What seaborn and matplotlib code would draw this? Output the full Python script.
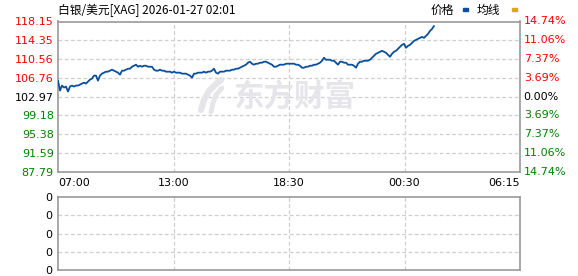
import numpy as np
import pandas as pd
import matplotlib
matplotlib.use("Agg")
import matplotlib.pyplot as plt
import seaborn as sns

# ---------------- data ----------------
title_text = "白银/美元[XAG] 2026-01-27 02:01"
prev_close = 102.97
y_ticks = [87.79, 91.59, 95.38, 99.18, 102.97, 106.76, 110.56, 114.35, 118.15]
pct_labels = ["14.74%", "11.06%", "7.37%", "3.69%", "0.00%", "3.69%", "7.37%", "11.06%", "14.74%"]
x_tick_labels = ["07:00", "13:00", "18:30", "00:30", "06:15"]
n_slots = 231  # evenly sampled slots across the trading day
prices = [
    106.20, 104.19, 105.20, 104.80, 105.00, 103.99, 105.00, 105.20, 105.00, 105.20,
    105.20, 105.40, 105.60, 105.80, 105.60, 106.00, 106.40, 106.60, 107.21, 107.21,
    106.20, 107.21, 107.61, 107.81, 108.01, 108.01, 108.21, 108.41, 108.21, 108.01,
    107.81, 107.41, 108.21, 108.21, 108.41, 108.61, 108.61, 109.01, 109.21, 109.42,
    109.01, 109.21, 109.01, 109.21, 109.21, 109.01, 109.01, 109.01, 108.41, 108.21,
    108.21, 108.41, 108.21, 108.21, 108.01, 108.01, 108.01, 107.81, 108.01, 107.81,
    107.81, 107.81, 107.61, 107.61, 107.61, 107.41, 107.21, 106.80, 107.61, 107.61,
    107.81, 107.81, 107.81, 108.01, 107.81, 108.01, 108.01, 108.21, 108.61, 107.81,
    107.61, 108.01, 108.01, 108.01, 108.21, 108.21, 108.21, 108.41, 108.41, 108.61,
    108.61, 108.81, 109.01, 109.21, 109.42, 109.82, 110.02, 109.62, 109.42, 109.62,
    109.62, 109.82, 109.82, 110.02, 110.02, 109.82, 109.62, 109.42, 109.01, 109.01,
    109.21, 109.42, 109.42, 109.42, 109.62, 109.62, 109.62, 109.62, 109.62, 109.42,
    109.42, 109.21, 108.81, 108.81, 109.01, 109.01, 109.21, 109.21, 109.42, 109.42,
    109.62, 109.82, 110.22, 110.82, 110.42, 110.42, 110.42, 110.22, 110.22, 109.82,
    109.42, 110.02, 110.02, 109.82, 109.82, 109.42, 109.42, 109.42, 109.21, 108.81,
    109.62, 110.02, 110.02, 110.22, 110.22, 110.22, 110.42, 110.82, 111.22, 111.62,
    111.83, 112.03, 112.23, 112.03, 111.83, 111.42, 111.02, 111.62, 112.03, 112.23,
    112.63, 113.03, 113.43, 113.63, 112.83, 113.23, 113.43, 113.83, 114.23, 114.44,
    114.64, 114.84, 115.04, 114.84, 115.24, 115.64, 116.24, 116.64, 117.25,
]
volume_labels = ["0", "0", "0", "0", "0"]

df = pd.DataFrame({"slot": np.arange(len(prices)), "price": prices})

# ---------------- style ----------------
sns.set_theme(style="white")
plt.rcParams["font.family"] = ["DejaVu Sans", "Noto Sans CJK SC"]
cjk = ["Noto Sans CJK SC", "DejaVu Sans"]

RED = "#ff0000"
GREEN = "#008000"
LINE = "#0a4f9c"
GRID = "#cfcfcf"
FRAME = "#999999"
WM = "#e5e5ea"

W, H = 578, 276
fig = plt.figure(figsize=(W / 100, H / 100), dpi=100)

def frac(x0, y0, x1, y1):
    return [x0 / W, 1 - y1 / H, (x1 - x0) / W, (y1 - y0) / H]

def fx(px):
    return px / W

def fy(py):
    return 1 - py / H

ax = fig.add_axes(frac(58, 21.5, 520, 171.7))
axv = fig.add_axes(frac(58, 197, 520, 270))

# watermark (logo strokes + text)
fig.text(fx(294), fy(97), "东方财富", family=cjk, fontsize=22, fontweight="bold",
         color=WM, ha="center", va="center", zorder=0)
fig.lines.append(plt.Line2D([fx(201), fx(204), fx(209), fx(216), fx(221)],
                            [fy(110), fy(100), fy(91), fy(84), fy(80)],
                            transform=fig.transFigure, color=WM, lw=4.5,
                            solid_capstyle="round", zorder=0))
fig.lines.append(plt.Line2D([fx(211), fx(213), fx(216), fx(222)],
                            [fy(112), fy(103), fy(95), fy(88)],
                            transform=fig.transFigure, color=WM, lw=3.5,
                            solid_capstyle="round", zorder=0))

sns.lineplot(data=df, x="slot", y="price", ax=ax, color=LINE, linewidth=1.3, zorder=3)

ax.set_xlim(0, n_slots)
ax.set_ylim(y_ticks[0], y_ticks[-1])
xt = np.linspace(0, n_slots, len(x_tick_labels))
ax.set_xticks(xt)
ax.set_xticklabels([])
ax.set_yticks(y_ticks)
ax.set_yticklabels([f"{v:.2f}" for v in y_ticks], fontsize=8)
ax.tick_params(axis="both", length=0, pad=3)
for v, lab in zip(y_ticks, ax.get_yticklabels()):
    lab.set_color(RED if v > prev_close + 1e-9 else (GREEN if v < prev_close - 1e-9 else "#000000"))
ax.set_xlabel("")
ax.set_ylabel("")
for v in y_ticks[1:-1]:
    ax.axhline(v, color=GRID, lw=0.9, ls=(0, (3, 2)), zorder=1)
for x in xt[1:-1]:
    ax.axvline(x, color=GRID, lw=0.9, ls=(0, (3, 2)), zorder=1)
for s in ax.spines.values():
    s.set_color(FRAME)
    s.set_linewidth(1.2)
ax.patch.set_alpha(0)

# x labels drawn as text to control alignment (first left, last right)
for i, (x, lab) in enumerate(zip(xt, x_tick_labels)):
    ha = "left" if i == 0 else ("right" if i == len(xt) - 1 else "center")
    ax.text(x, -0.045, lab, transform=ax.get_xaxis_transform(), fontsize=8,
            color="#000000", ha=ha, va="top", clip_on=False)

# right percentage labels
for v, lab in zip(y_ticks, pct_labels[::-1]):
    col = RED if v > prev_close + 1e-9 else (GREEN if v < prev_close - 1e-9 else "#000000")
    ax.text(1.008, (v - y_ticks[0]) / (y_ticks[-1] - y_ticks[0]), lab, transform=ax.transAxes,
            fontsize=8, color=col, ha="left", va="center")

# volume panel
axv.set_xlim(0, n_slots)
vt = np.arange(len(volume_labels))
axv.set_ylim(vt[0], vt[-1])
axv.set_yticks(vt)
axv.set_yticklabels(volume_labels, fontsize=8, color="#000000")
axv.set_xticks([])
axv.tick_params(axis="both", length=0, pad=4)
for v in vt[1:-1]:
    axv.axhline(v, color=GRID, lw=0.9, ls=(0, (3, 2)))
for x in xt[1:-1]:
    axv.axvline(x, color=GRID, lw=0.9, ls=(0, (3, 2)))
for s in axv.spines.values():
    s.set_color(FRAME)
    s.set_linewidth(1.2)

# header & legend
fig.text(fx(58), fy(10), title_text, family=cjk, fontsize=8.5, color="#000000",
         ha="left", va="center")
fig.text(fx(431), fy(10), "价格", family=cjk, fontsize=8.5, color="#000000", ha="left", va="center")
fig.text(fx(477), fy(10), "均线", family=cjk, fontsize=8.5, color="#000000", ha="left", va="center")
fig.patches.append(plt.Rectangle((fx(463), fy(11)), 5 / W, 3 / H, transform=fig.transFigure,
                                 color=LINE, figure=fig))
fig.patches.append(plt.Rectangle((fx(512), fy(11)), 5 / W, 3 / H, transform=fig.transFigure,
                                 color="#e0a41e", figure=fig))

fig.savefig("out.png", dpi=100)
